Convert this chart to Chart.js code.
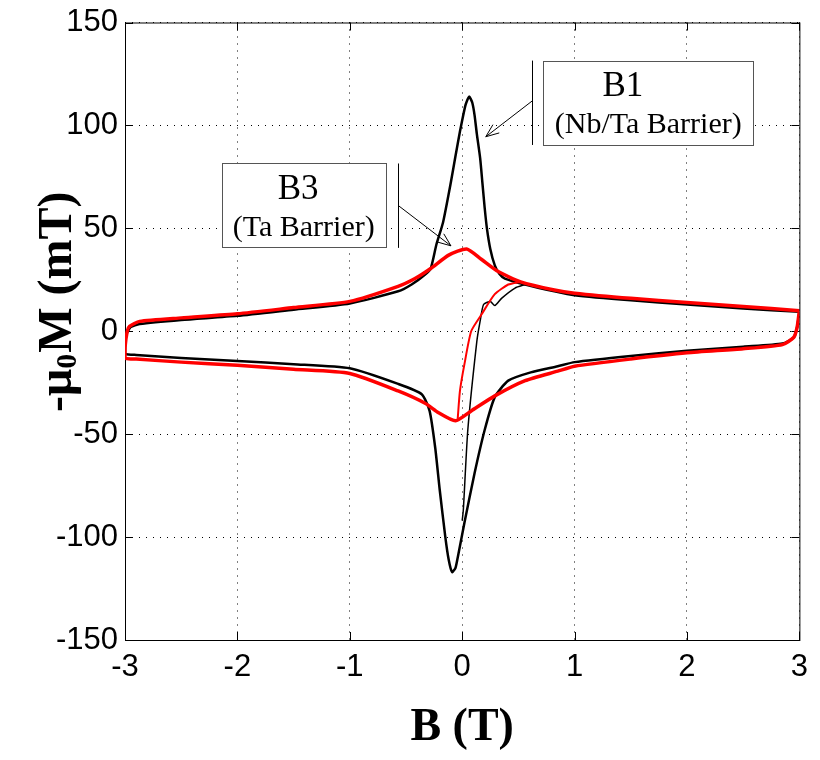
<!DOCTYPE html>
<html>
<head>
<meta charset="utf-8">
<script src="https://cdn.jsdelivr.net/npm/chart.js@4.4.0/dist/chart.umd.min.js"></script>
<style>
  html, body { margin: 0; padding: 0; background: #fff; }
  canvas { display: block; }
</style>
</head>
<body>
<canvas id="myChart" width="820" height="760"></canvas>
<script>
// B1 (Nb/Ta barrier) - black loop, field swept 3 -> -3 (upper) then -3 -> 3 (lower)
const b1UpperB = [3.0, 2.5, 2.0, 1.5, 1.0, 0.82, 0.56, 0.38, 0.33, 0.29, 0.25, 0.22, 0.2, 0.18, 0.16, 0.13, 0.11, 0.09, 0.062, 0.03, -0.02, -0.06, -0.1, -0.17, -0.23, -0.28, -0.33, -0.45, -0.57, -1.0, -1.5, -2.0, -2.5, -2.87, -2.95, -2.99, -3.0]
const b1UpperM = [9.5, 11, 13, 15, 17.5, 19.4, 22.7, 25.6, 28, 32, 40, 50, 60, 72, 84, 96, 105, 111, 114, 110, 97, 85, 72.6, 53, 42, 30.5, 27.6, 22.7, 19.4, 13.5, 10.5, 7.5, 5.5, 3.5, 2, -2, -10]
const b1LowerB = [-3.0, -2.9, -2.5, -2.0, -1.5, -1.0, -0.57, -0.36, -0.29, -0.24, -0.2, -0.15, -0.12, -0.09, -0.06, -0.04, 0.02, 0.11, 0.2, 0.29, 0.41, 0.61, 0.85, 1.0, 1.5, 2.0, 2.5, 2.85, 2.95, 2.98, 3.0]
const b1LowerM = [-11, -11.5, -13, -14.5, -16, -18, -25.6, -30.6, -38.7, -56.6, -77, -100, -111, -117, -115, -110, -93, -69, -48, -32, -24, -20, -17, -15, -12, -9.5, -7.5, -6, -3, 2, 9.5]
const b1VirginB = [0.0, 0.01, 0.05, 0.13, 0.16, 0.19, 0.25, 0.29, 0.35, 0.47, 0.56]
const b1VirginM = [-92, -87, -48, -5, 5, 13, 14.5, 12.5, 16, 21, 22.7]

// B3 (Ta barrier) - red loop
const b3UpperB = [3.0, 2.5, 2.0, 1.5, 1.0, 0.82, 0.52, 0.32, 0.17, 0.04, -0.12, -0.28, -0.42, -0.57, -1.0, -1.5, -2.0, -2.5, -2.87, -2.96, -2.98, -3.0]
const b3UpperM = [10, 12, 14, 16, 18.5, 20, 24, 29, 35, 40, 37, 30.5, 25.6, 21.8, 14.5, 11.5, 8.5, 6.5, 4.8, 2.4, 0, -8]
const b3LowerB = [-3.0, -2.9, -2.5, -2.0, -1.5, -1.0, -0.57, -0.33, -0.21, -0.06, 0.08, 0.29, 0.56, 0.85, 1.0, 1.5, 2.0, 2.5, 2.85, 2.95, 2.98, 3.0]
const b3LowerM = [-13, -13.5, -15, -16.5, -18.5, -20.5, -29, -35, -39.6, -43.5, -38.7, -31.4, -24, -19.4, -17, -13.5, -10.5, -8.5, -6.5, -3, 2, 10]
const b3VirginB = [-0.04, -0.02, 0.02, 0.08, 0.17, 0.29, 0.41, 0.52]
const b3VirginM = [-42.6, -29, -16, 0, 8, 18, 22.7, 24]

// axis ticks
const xTicks = [-3, -2, -1, 0, 1, 2, 3]
const yTicks = [-150, -100, -50, 0, 50, 100, 150]

// callout boxes, in data units
const callouts = [
  { title: 'B1', sub: '(Nb/Ta Barrier)', titleX: 1.43, box: [0.72, 131.5, 2.59, 90.5], bar: 0.62, from: 112, tip: [0.21, 94.5] },
  { title: 'B3', sub: '(Ta Barrier)', titleX: -1.46, box: [-2.14, 81.5, -0.68, 40.5], bar: -0.575, from: 61, tip: [-0.1, 41.5] },
]

const toPoints = (bs, ms) => bs.map((b, i) => ({ x: b, y: ms[i] }))

const drawArrow = (ctx, x1, y1, x2, y2) => {
  ctx.beginPath()
  ctx.moveTo(x1, y1)
  ctx.lineTo(x2, y2)
  ctx.stroke()
  const a = Math.atan2(y2 - y1, x2 - x1), len = 14, spread = 0.38
  ctx.beginPath()
  ctx.moveTo(x2 - len * Math.cos(a - spread), y2 - len * Math.sin(a - spread))
  ctx.lineTo(x2, y2)
  ctx.lineTo(x2 - len * Math.cos(a + spread), y2 - len * Math.sin(a + spread))
  ctx.stroke()
}

const frame = {
  id: 'frame',
  beforeDatasetsDraw(chart) {
    const { ctx, chartArea: a, scales: { x, y } } = chart
    ctx.save()
    ctx.strokeStyle = '#000'
    ctx.lineWidth = 1
    ctx.strokeRect(a.left + 0.5, a.top + 0.5, a.right - a.left, a.bottom - a.top)
    ctx.beginPath()
    xTicks.forEach(v => {
      const px = Math.round(x.getPixelForValue(v)) + 0.5
      ctx.moveTo(px, a.bottom); ctx.lineTo(px, a.bottom - 8)
      ctx.moveTo(px, a.top); ctx.lineTo(px, a.top + 8)
    })
    yTicks.forEach(v => {
      const py = Math.round(y.getPixelForValue(v)) + 0.5
      ctx.moveTo(a.left, py); ctx.lineTo(a.left + 8, py)
      ctx.moveTo(a.right, py); ctx.lineTo(a.right - 8, py)
    })
    ctx.stroke()
    ctx.restore()
  },
  afterDraw(chart) {
    const { ctx, scales: { x, y } } = chart
    ctx.save()
    callouts.forEach(c => {
      const l = x.getPixelForValue(c.box[0]), t = y.getPixelForValue(c.box[1])
      const r = x.getPixelForValue(c.box[2]), b = y.getPixelForValue(c.box[3])
      ctx.fillStyle = '#fff'
      ctx.fillRect(l, t, r - l, b - t)
      ctx.strokeStyle = '#555'
      ctx.lineWidth = 1
      ctx.strokeRect(Math.round(l) + 0.5, Math.round(t) + 0.5, Math.round(r - l), Math.round(b - t))
      const bx = Math.round(x.getPixelForValue(c.bar)) + 0.5
      ctx.strokeStyle = '#000'
      ctx.beginPath()
      ctx.moveTo(bx, t); ctx.lineTo(bx, b)
      ctx.stroke()
      drawArrow(ctx, bx, y.getPixelForValue(c.from), x.getPixelForValue(c.tip[0]), y.getPixelForValue(c.tip[1]))
      ctx.fillStyle = '#000'
      ctx.textAlign = 'center'
      ctx.textBaseline = 'middle'
      ctx.font = '35px "Liberation Serif"'
      ctx.fillText(c.title, x.getPixelForValue(c.titleX), t + (b - t) * 0.31)
      ctx.font = '30px "Liberation Serif"'
      ctx.fillText(c.sub, (l + r) / 2, t + (b - t) * 0.76)
    })

    // y axis title with subscript 0
    ctx.translate(71, 412)
    ctx.rotate(-Math.PI / 2)
    ctx.textAlign = 'left'
    ctx.textBaseline = 'alphabetic'
    ctx.fillStyle = '#000'
    let pos = 0
    ctx.font = 'bold 48px "Liberation Serif"'
    ctx.fillText('-\u03bc', pos, 0)
    pos += ctx.measureText('-\u03bc').width
    ctx.font = 'bold 30px "Liberation Serif"'
    ctx.fillText('0', pos, 5)
    pos += ctx.measureText('0').width + 1
    ctx.font = 'bold 48px "Liberation Serif"'
    ctx.fillText('M (mT)', pos, 0)
    ctx.restore()
  }
}

const tickFont = { family: '"Liberation Sans", Arial, sans-serif', size: 31, lineHeight: 1 }

const chart = new Chart(document.getElementById('myChart').getContext('2d'), {
  type: 'scatter',
  data: {
    datasets: [
      { label: 'B1', data: toPoints(b1UpperB.concat(b1LowerB), b1UpperM.concat(b1LowerM)), borderColor: '#000', borderWidth: 2.5, order: 4 },
      { label: 'B1 virgin', data: toPoints(b1VirginB, b1VirginM), borderColor: '#000', borderWidth: 1.5, order: 3 },
      { label: 'B3', data: toPoints(b3UpperB.concat(b3LowerB), b3UpperM.concat(b3LowerM)), borderColor: '#ff0000', borderWidth: 3.5, order: 2 },
      { label: 'B3 virgin', data: toPoints(b3VirginB, b3VirginM), borderColor: '#ff0000', borderWidth: 2, order: 1 },
    ].map(d => ({ ...d, showLine: true, pointRadius: 0, fill: false, tension: 0.2 }))
  },
  options: {
    responsive: false,
    animation: false,
    events: [],
    layout: { padding: { top: 18, right: 18, left: 0, bottom: 0 } },
    plugins: { legend: { display: false }, tooltip: { enabled: false } },
    scales: {
      x: {
        type: 'linear', min: -3, max: 3,
        afterBuildTicks: s => { s.ticks = xTicks.map(v => ({ value: v })) },
        ticks: { font: tickFont, color: '#000', padding: 12, maxRotation: 0 },
        grid: { color: '#000', lineWidth: 1, drawTicks: false },
        border: { display: false, dash: [1, 6] },
        title: { display: true, text: 'B (T)', color: '#000', font: { family: '"Liberation Serif", serif', size: 46, weight: 'bold' }, padding: { top: 0, bottom: 4 } },
        afterFit: s => { s.height = 120 }
      },
      y: {
        type: 'linear', min: -150, max: 150,
        afterBuildTicks: s => { s.ticks = yTicks.map(v => ({ value: v })) },
        ticks: { font: tickFont, color: '#000', padding: 7 },
        grid: { color: '#000', lineWidth: 1, drawTicks: false },
        border: { display: false, dash: [1, 6] },
        afterFit: s => { s.width = 125 }
      }
    }
  },
  plugins: [frame]
});
</script>
</body>
</html>
